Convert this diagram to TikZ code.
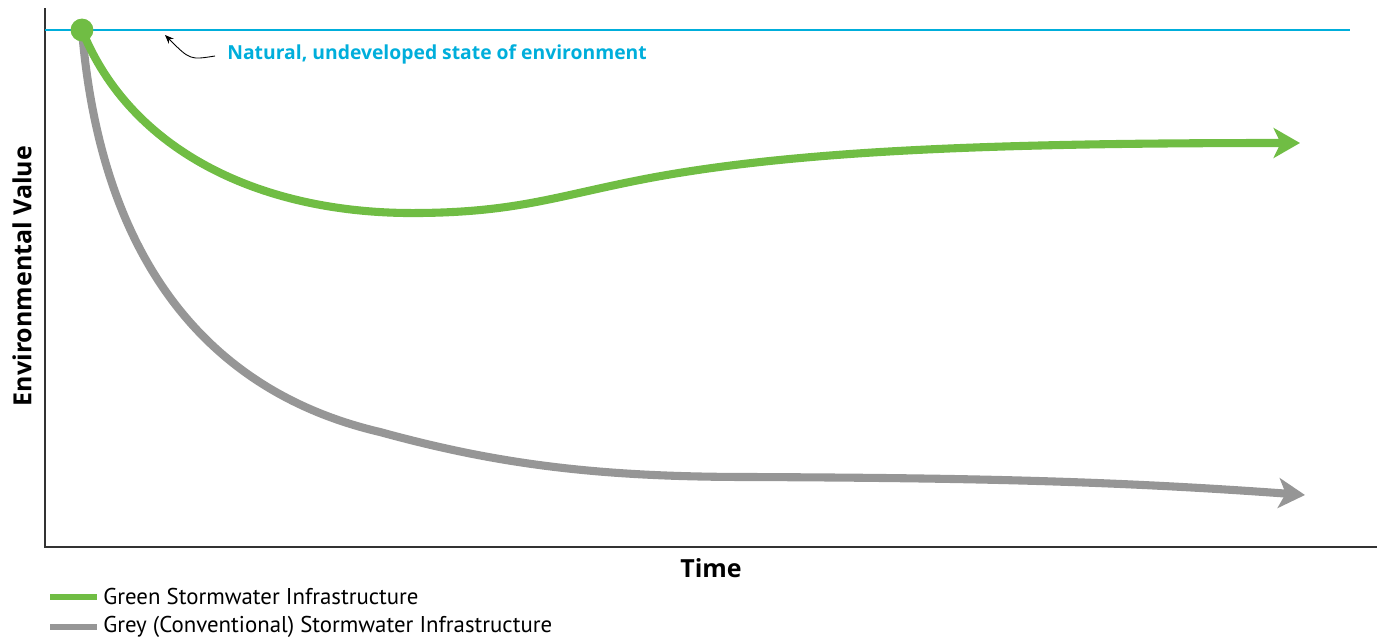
\documentclass[tikz,border=0pt]{standalone}
\usepackage{fontspec}
\setmainfont{Open Sans}
\newfontfamily\legendfont{PT Sans}
\usetikzlibrary{arrows.meta}
\definecolor{greenline}{RGB}{112,189,68}
\definecolor{greyline}{RGB}{150,150,150}
\definecolor{natblue}{RGB}{0,174,219}
\tikzset{x=0.02cm, y=-0.02cm,
    axis/.style={draw=black!80, line width=0.7pt},
    curve/.style={line width=4.6pt, -{Stealth[length=15pt, width=17pt, inset=4pt]}},
    legendbar/.style={line width=3.5pt},
    legendtext/.style={anchor=west, inner sep=0pt, font=\legendfont\fontsize{13}{15}\selectfont},
    axislabel/.style={font=\bfseries\fontsize{14.2}{16}\selectfont, inner sep=0pt},
    }
\begin{document}
\begin{tikzpicture}
\useasboundingbox (0,0) rectangle (1377,639);
% axes
\coordinate (top) at (45,8);
\coordinate (origin) at (45,547);
\coordinate (right) at (1377,547);
\draw[axis] (top) -- (origin) -- (right);
\node[axislabel, rotate=90] (yl) at (22,276) {Environmental Value};
\node[axislabel] (xl) at (711,568) {Time};
% natural state
\coordinate (nl) at (45,30);
\coordinate (nr) at (1350,30);
\draw[natblue, line width=1.1pt] (nl) -- (nr);
\node[natblue, anchor=west, inner sep=0pt, font=\fontsize{11}{13}\selectfont\bfseries] (nat) at (227,54) {Natural, undeveloped state of environment};
\coordinate (nattip) at (165,35);
\draw[-{Stealth[length=5pt, width=4pt]}, line width=0.5pt] (nat.west) ++(-12,2) coordinate (natfrom) .. controls (190,60) .. (nattip);
% curves
\coordinate (gend) at (1300,143);
\coordinate (kend) at (1305,495);
\draw[curve, greyline] (82,30) .. controls (100,250) and (200,390) .. (380,432)
    .. controls (500,465) and (600,477) .. (750,477)
    .. controls (950,478) and (1100,480) .. (kend);
\draw[curve, greenline] (82,30) .. controls (130,150) and (260,215) .. (420,213)
    .. controls (520,212) and (560,195) .. (650,178)
    .. controls (800,150) and (1000,143) .. (gend);
\node[circle, fill=greenline, minimum size=13pt, inner sep=0pt] (start) at (82,30) {};
% legend
\node[legendtext] (lg) at (103,597) {Green Stormwater Infrastructure};
\node[legendtext] (lk) at (103,627) {Grey (Conventional) Stormwater Infrastructure};
\draw[legendbar, greenline] (50,597) -- ([xshift=-6*0.02cm]lg.west);
\draw[legendbar, greyline] (50,627) -- ([xshift=-6*0.02cm]lk.west);
\end{tikzpicture}
\end{document}
